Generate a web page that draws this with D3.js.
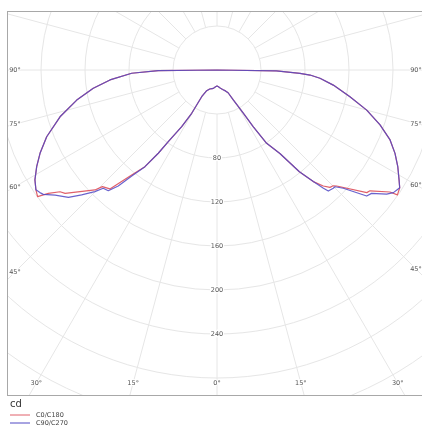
<!DOCTYPE html>
<html>
<head>
<meta charset="utf-8">
<script src="https://cdn.jsdelivr.net/npm/d3@7"></script>
<style>
  body { margin: 0; background: #fff; }
  svg { will-change: transform; }
  text { font-family: "DejaVu Sans", Verdana, sans-serif; }
</style>
</head>
<body>
<script>
// gamma angles (deg from nadir) and intensities (cd) for each half plane
let c0Gamma = [0, 5, 11, 16, 22, 26, 28.5, 31.3, 32.6, 34.1, 37, 39, 40.8, 42.5, 43.9, 45.1, 45.9, 50.7, 51.7, 54.8,
  55.3, 56.6, 57.2, 58.9, 61.9, 64.9, 68, 71.4, 75, 78.6, 82.6, 85.4, 86.9, 87.7, 89.2, 90, 180]
let c0Cd = [14.5, 15.3, 17, 18.5, 20.5, 23, 31, 46, 61, 80.5, 95, 119, 134, 143, 148.1, 149.1, 151.5, 176, 177.2, 192.4,
  199.5, 198.2, 197.6, 193.3, 186.3, 178.7, 169.7, 156.4, 140.9, 123.3, 106.6, 93.9, 84.7, 75.5, 54, 0, 0]

let c180Gamma = [0, 5, 11, 15, 21, 26.5, 29.8, 30.3, 31.9, 34.2, 35.2, 36.7, 39.1, 42, 44.5, 45.5, 50.9, 52.2, 53.8, 54.8,
  56.5, 58.9, 61.8, 64.8, 68.6, 73.4, 77.9, 81.6, 84.7, 87.8, 89.3, 90, 180]
let c180Cd = [14.5, 15.3, 17, 17.5, 18.5, 21, 28, 45.6, 60.7, 78.8, 92.6, 109.6, 123, 145.5, 148.7, 155.6, 177.9, 180.6, 190, 199.6,
  197.4, 193.3, 186, 177.8, 166.3, 148.9, 130.4, 113.7, 97.7, 77.6, 53.4, 0, 0]

let c90Gamma = [0, 5, 11, 16, 22, 26, 28.5, 31.3, 32.6, 34.1, 37, 39, 40.8, 42, 42.6, 44.5, 45.3, 46.9, 49.9, 51.4,
  53.8, 55.2, 56.3, 57.2, 58.9, 61.9, 64.9, 68, 71.4, 75, 78.6, 82.6, 85.4, 86.9, 87.7, 89.2, 90, 180]
let c90Cd = [14.5, 15.3, 17, 18.5, 20.5, 23, 31, 46, 61, 80.5, 95, 119, 134, 144.6, 149.5, 150.8, 150.9, 157.3, 177.9, 179.8,
  191.1, 195.3, 196.5, 197.6, 193.3, 186.3, 178.7, 169.7, 156.4, 140.9, 123.3, 106.6, 93.9, 84.7, 75.5, 54, 0, 0]

let c270Gamma = [0, 5, 11, 15, 21, 26.5, 29.8, 30.3, 31.9, 34.2, 35.2, 36.7, 38.8, 40.4, 42, 43.9, 45.1, 47.3, 49.4, 52.3,
  54.4, 55.3, 56.5, 58.9, 61.8, 64.8, 68.6, 73.4, 77.9, 81.6, 84.7, 87.8, 89.3, 90, 180]
let c270Cd = [14.5, 15.3, 17, 17.5, 18.5, 21, 28, 45.6, 60.7, 78.8, 92.6, 109.6, 123.7, 138.5, 147.7, 149.2, 156.7, 167.5, 177.9, 186,
  194.2, 195.8, 197.4, 193.3, 186, 177.8, 166.3, 148.9, 130.4, 113.7, 97.7, 77.6, 53.4, 0, 0]

let ringValues = d3.range(40, 481, 40)
let ringLabels = [80, 120, 160, 200, 240]
let spokeAngles = d3.range(0, 181, 15)
let sideLabels = [90, 75, 60, 45]
let bottomLabels = [30, 15, 0]
let seriesNames = ['C0/C180', 'C90/C270']
let seriesColors = ['#e0606a', '#5048c4']

let width = 422, height = 428
let box = {x: 7, y: 11, w: 420, h: 384}
let cx = 217, cy = 70
let rad = Math.PI / 180

let r = d3.scaleLinear().domain([0, 40]).range([0, 44])

let svg = d3.select('body').append('svg')
  .attr('width', width)
  .attr('height', height)

svg.append('rect')
  .attr('width', width).attr('height', height)
  .attr('fill', '#fff')

svg.append('defs').append('clipPath').attr('id', 'plotclip')
  .append('rect')
  .attr('x', box.x).attr('y', box.y).attr('width', box.w).attr('height', box.h)

let grid = svg.append('g').attr('clip-path', 'url(#plotclip)')

// rings
grid.selectAll('.ring')
  .data(ringValues)
  .enter().append('circle')
  .attr('class', 'ring')
  .attr('cx', cx).attr('cy', cy)
  .attr('r', d => r(d))
  .attr('fill', 'none')
  .attr('stroke', '#e6e6e6')
  .attr('stroke-width', 1)

// spokes on both sides, starting at first ring
let spokes = []
spokeAngles.forEach(a => {
  spokes.push({a: a, s: 1})
  if (a > 0 && a < 180) spokes.push({a: a, s: -1})
})
grid.selectAll('.spoke')
  .data(spokes)
  .enter().append('line')
  .attr('class', 'spoke')
  .attr('x1', d => cx + d.s * r(40) * Math.sin(d.a * rad))
  .attr('y1', d => cy + r(40) * Math.cos(d.a * rad))
  .attr('x2', d => cx + d.s * r(600) * Math.sin(d.a * rad))
  .attr('y2', d => cy + r(600) * Math.cos(d.a * rad))
  .attr('stroke', '#e6e6e6')
  .attr('stroke-width', 1)

// frame
svg.append('rect')
  .attr('x', box.x + 0.5).attr('y', box.y + 0.5)
  .attr('width', box.w).attr('height', box.h)
  .attr('fill', 'none')
  .attr('stroke', '#a8a8a8')
  .attr('stroke-width', 1)

// ring labels
svg.selectAll('.rlabel')
  .data(ringLabels)
  .enter().append('text')
  .attr('class', 'rlabel')
  .attr('x', cx)
  .attr('y', d => cy + r(d))
  .attr('dy', '0.35em')
  .attr('text-anchor', 'middle')
  .attr('font-size', 6.5)
  .attr('fill', '#555')
  .attr('stroke', '#fff')
  .attr('stroke-width', 2.5)
  .attr('paint-order', 'stroke')
  .text(d => d)

// angle labels at sides and bottom
let leftX = 15, rightX = 416
let sideData = []
sideLabels.forEach(a => {
  let t = a === 90 ? 0 : 1 / Math.tan(a * rad)
  sideData.push({a: a, x: leftX, y: cy + (cx - leftX) * t})
  sideData.push({a: a, x: rightX, y: cy + (rightX - cx) * t})
})
let bottomY = 383
bottomLabels.forEach(a => {
  let dx = (bottomY - cy) * Math.tan(a * rad)
  sideData.push({a: a, x: cx - dx, y: bottomY})
  if (a > 0) sideData.push({a: a, x: cx + dx, y: bottomY})
})
svg.selectAll('.alabel')
  .data(sideData)
  .enter().append('text')
  .attr('class', 'alabel')
  .attr('x', d => d.x)
  .attr('y', d => d.y)
  .attr('dy', '0.35em')
  .attr('text-anchor', 'middle')
  .attr('font-size', 6.5)
  .attr('fill', '#555')
  .attr('stroke', '#fff')
  .attr('stroke-width', 2)
  .attr('paint-order', 'stroke')
  .text(d => d.a + '°')

// curves
function curvePoints (rightG, rightI, leftG, leftI) {
  let right = rightG.map((g, i) => [Math.PI - g * rad, r(rightI[i])])
  let left = leftG.map((g, i) => [Math.PI + g * rad, r(leftI[i])]).reverse()
  return right.concat(left)
}

let line = d3.lineRadial()
  .angle(d => d[0])
  .radius(d => d[1])
  .curve(d3.curveLinearClosed)

let curves = [
  curvePoints(c0Gamma, c0Cd, c180Gamma, c180Cd),
  curvePoints(c90Gamma, c90Cd, c270Gamma, c270Cd)
]

let plot = svg.append('g')
  .attr('transform', 'translate(' + cx + ',' + cy + ')')

plot.selectAll('.curve')
  .data(curves)
  .enter().append('path')
  .attr('class', 'curve')
  .attr('d', d => line(d))
  .attr('fill', 'none')
  .attr('stroke', (d, i) => seriesColors[i])
  .attr('stroke-width', 1.2)
  .attr('stroke-opacity', (d, i) => i === 1 ? 0.85 : 1)
  .attr('stroke-linejoin', 'round')

// unit + legend
svg.append('text')
  .attr('x', 10).attr('y', 407)
  .attr('font-size', 10)
  .attr('fill', '#333')
  .text('cd')

let legend = svg.selectAll('.legend')
  .data(seriesNames)
  .enter().append('g')
  .attr('class', 'legend')
  .attr('transform', (d, i) => 'translate(10,' + (415 + i * 8) + ')')

legend.append('line')
  .attr('x1', 0).attr('x2', 20)
  .attr('y1', 0).attr('y2', 0)
  .attr('stroke', (d, i) => seriesColors[i])
  .attr('stroke-width', 1)

legend.append('text')
  .attr('x', 26)
  .attr('dy', '0.35em')
  .attr('font-size', 6.5)
  .attr('fill', '#444')
  .text(d => d)
</script>
</body>
</html>
